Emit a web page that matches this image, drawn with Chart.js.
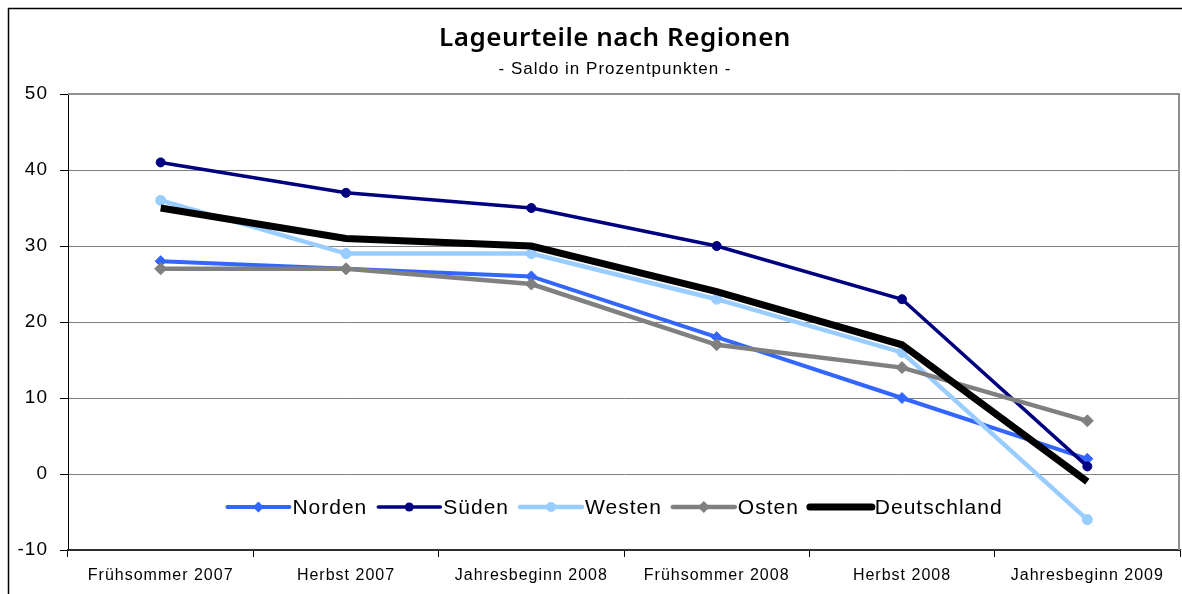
<!DOCTYPE html>
<html>
<head>
<meta charset="utf-8">
<script src="https://cdn.jsdelivr.net/npm/chart.js@4/dist/chart.umd.min.js"></script>
<style>
  body { margin: 0; background: #fff; }
</style>
</head>
<body>
<canvas id="chart" width="1182" height="594"></canvas>
<script>
// data
const categories = ['Frühsommer 2007', 'Herbst 2007', 'Jahresbeginn 2008', 'Frühsommer 2008', 'Herbst 2008', 'Jahresbeginn 2009'];
const norden = [28, 27, 26, 18, 10, 2];
const sueden = [41, 37, 35, 30, 23, 1];
const westen = [36, 29, 29, 23, 16, -6];
const osten = [27, 27, 25, 17, 14, 7];
const deutschland = [35, 31, 30, 24, 17, -1];
const yMin = -10, yMax = 50, yStep = 10;

const titleText = 'Lageurteile nach Regionen';
const subtitleText = '- Saldo in Prozentpunkten -';

const baseFont = "'Liberation Sans', Arial, sans-serif";

function series(label, data, color, width, style, radius, order) {
  return {
    label: label,
    data: data,
    borderColor: color,
    backgroundColor: color,
    borderWidth: width,
    pointStyle: style,
    pointRadius: radius,
    pointHoverRadius: radius,
    pointBackgroundColor: color,
    pointBorderColor: color,
    pointBorderWidth: 1,
    tension: 0,
    fill: false,
    order: order,
  };
}

const datasets = [
  series('Norden', norden, '#3366FF', 4, 'rectRot', 5.5, 5),
  series('Süden', sueden, '#000080', 3.5, 'circle', 4.5, 4),
  series('Westen', westen, '#99CCFF', 4.5, 'circle', 5, 3),
  series('Osten', osten, '#808080', 4.5, 'rectRot', 6, 2),
  series('Deutschland', deutschland, '#000000', 7, false, 0, 1),
];

// the reference text is a bit spaced out
function spacing(chart) {
  chart.ctx.letterSpacing = '1px';
}

// white page, outer frame, titles, plot border
const framePlugin = {
  id: 'frame',
  beforeLayout(chart) { spacing(chart); },
  beforeDraw(chart) {
    const ctx = chart.ctx;
    spacing(chart);
    ctx.save();
    ctx.fillStyle = '#fff';
    ctx.fillRect(0, 0, chart.width, chart.height);
    ctx.strokeStyle = '#000';
    ctx.lineWidth = 1.5;
    ctx.strokeRect(8.5, 8.5, 1200, 620);

    ctx.fillStyle = '#000';
    ctx.textAlign = 'center';
    ctx.textBaseline = 'middle';
    ctx.letterSpacing = '0.5px';
    ctx.font = "600 26px 'Noto Sans', sans-serif";
    ctx.fillText(titleText, 615, 39);
    ctx.letterSpacing = '1px';
    ctx.font = '17px ' + baseFont;
    ctx.fillText(subtitleText, 615, 69);
    ctx.restore();
  },
  beforeDatasetsDraw(chart) {
    const a = chart.chartArea;
    const ctx = chart.ctx;
    ctx.save();
    ctx.strokeStyle = '#909090';
    ctx.lineWidth = 2;
    ctx.beginPath();
    ctx.moveTo(a.left, a.top);
    ctx.lineTo(a.right - 1, a.top);
    ctx.lineTo(a.right - 1, a.bottom);
    ctx.stroke();
    ctx.restore();
  },
};

function drawMarker(ctx, style, x, y, r) {
  ctx.beginPath();
  if (style === 'circle') {
    ctx.arc(x, y, r, 0, Math.PI * 2);
  } else if (style === 'rectRot') {
    ctx.moveTo(x, y - r);
    ctx.lineTo(x + r, y);
    ctx.lineTo(x, y + r);
    ctx.lineTo(x - r, y);
    ctx.closePath();
  }
  ctx.fill();
}

// legend sits inside the plot area, near the bottom
const inlineLegend = {
  id: 'inlineLegend',
  afterDraw(chart) {
    const ctx = chart.ctx;
    const a = chart.chartArea;
    const lineLen = 62, gapText = 3, gapItem = 11;
    ctx.save();
    ctx.letterSpacing = '1px';
    ctx.font = '21px ' + baseFont;
    ctx.textBaseline = 'middle';
    let total = 0;
    const widths = datasets.map((d) => ctx.measureText(d.label).width);
    widths.forEach((w) => { total += lineLen + gapText + w + gapItem; });
    total -= gapItem;
    let x = (a.left + a.right) / 2 - 9 - total / 2;
    const y = a.bottom - 43;
    datasets.forEach((d, i) => {
      ctx.strokeStyle = d.borderColor;
      ctx.lineWidth = d.borderWidth;
      ctx.lineCap = 'round';
      ctx.beginPath();
      ctx.moveTo(x, y);
      ctx.lineTo(x + lineLen, y);
      ctx.stroke();
      ctx.fillStyle = d.borderColor;
      if (d.pointStyle) drawMarker(ctx, d.pointStyle, x + lineLen / 2, y, d.pointRadius);
      ctx.fillStyle = '#000';
      ctx.fillText(d.label, x + lineLen + gapText, y + 1);
      x += lineLen + gapText + widths[i] + gapItem;
    });
    ctx.restore();
  },
};

new Chart(document.getElementById('chart'), {
  type: 'line',
  data: { labels: categories, datasets: datasets },
  plugins: [framePlugin, inlineLegend],
  options: {
    responsive: false,
    animation: false,
    events: [],
    layout: { autoPadding: false, padding: { left: 0, right: 2, top: 94, bottom: 0 } },
    plugins: {
      legend: { display: false },
      tooltip: { enabled: false },
      title: { display: false },
    },
    scales: {
      x: {
        offset: true,
        grid: { offset: true, drawOnChartArea: false, tickLength: 7, tickColor: '#000' },
        border: { color: '#303030', width: 2 },
        ticks: { color: '#000', font: { family: baseFont, size: 16 }, padding: 9, maxRotation: 0, autoSkip: false },
        afterFit(scale) {
          scale.height = 44;
          scale.paddingLeft = 0;
          scale.paddingRight = 0;
        },
      },
      y: {
        min: yMin,
        max: yMax,
        grid: { color: '#808080', lineWidth: 1, tickLength: 8, tickColor: '#000' },
        border: { color: '#000', width: 1 },
        ticks: { stepSize: yStep, color: '#000', font: { family: baseFont, size: 19 }, padding: 12 },
        afterFit(scale) { scale.width = 68; },
      },
    },
  },
});
</script>
</body>
</html>
